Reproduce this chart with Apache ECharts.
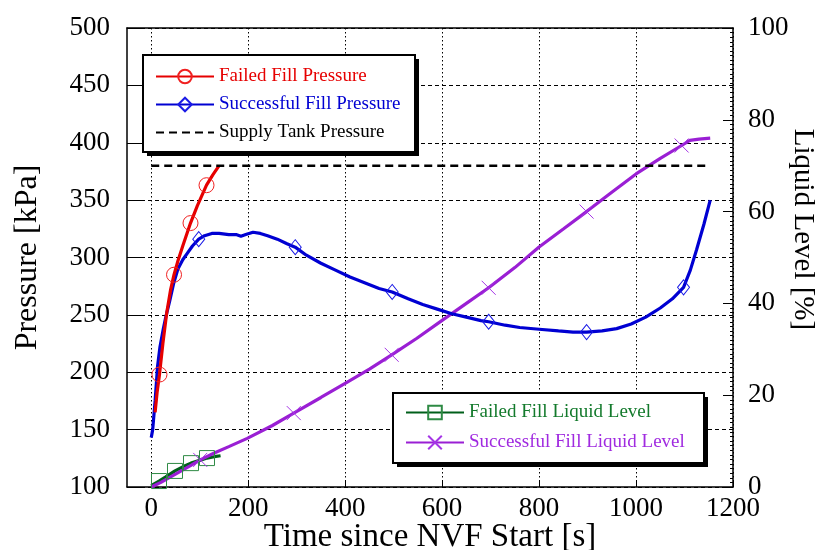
<!DOCTYPE html>
<html>
<head>
<meta charset="utf-8">
<script src="https://cdn.jsdelivr.net/npm/echarts@6/dist/echarts.min.js"></script>
<style>
html,body{margin:0;padding:0;background:#fff;}
#c{width:822px;height:550px;}
</style>
</head>
<body>
<div id="c"></div>
<script>
// ---- data (time [s], value) ----
var xTicks = [0, 200, 400, 600, 800, 1000, 1200];
var failedPressure = [[8,165],[12,182],[17,198],[24,225],[32,252],[40,272],[47,285],[55,297],[65,310],[81,330],[95,345],[114,363],[127,372],[140,380]];
var failedPressureMarks = [17, 47, 81, 114];
var successPressure = [[0,143],[3,150],[8,175],[13,205],[18,222],[25,238],[30,248],[38,262],[46,277],[55,290],[65,298],[75,304],[85,310],[98,316],[110,319],[125,321],[140,321],[160,320],[175,320],[185,318.5],[195,320],[210,322],[225,321],[240,319],[260,316],[280,312],[297,309],[320,302],[350,295],[380,289],[410,283],[440,278],[470,273],[497,270],[530,264],[560,259],[590,255],[620,251],[650,248],[680,245],[696,244],[730,241],[760,239],[800,237.5],[840,236],[870,235],[898,235],[930,236],[960,238],[990,242],[1020,248],[1050,256],[1075,264],[1098,274],[1112,289],[1125,307],[1140,329],[1153,350]];
var successPressureMarks = [98, 297, 497, 696, 898, 1098];
var supplyPressure = [[0,380],[1153,380]];
var failedLevel = [[0,0.3],[16,1.3],[30,2.2],[49,3.5],[65,4.4],[82,5.2],[100,5.8],[115,6.3],[130,6.6],[143,6.8]];
var failedLevelMarks = [16, 49, 82, 115];
var successLevel = [[0,0],[20,1],[50,2.8],[80,4.6],[101,5.9],[130,7.4],[160,8.8],[198,10.6],[250,13.4],[294,16.1],[350,19.5],[400,22.6],[450,25.7],[496,28.8],[548,32.4],[600,36.3],[650,40],[696,43.4],[750,47.8],[800,52.3],[850,56.2],[898,60],[950,64.2],[1000,68.2],[1050,71.6],[1094,74.4],[1111,75.5],[1130,75.8],[1153,76]];
var successLevelMarks = [101, 294, 496, 696, 898, 1094];

var SERIF = '"Liberation Serif","Times New Roman",serif';
var RED = '#e60000', BLUE = '#0000d2', PURPLE = '#9a1fd4', GREEN = '#005f1a';
var XPATH = 'path://M0,0L10,10M10,0L0,10';

function withMarks(points, marks) {
  return points.map(function (p) {
    return marks.indexOf(p[0]) >= 0 ? { value: p } : { value: p, symbol: 'none' };
  });
}

function lineSeries(name, data, color, symbol, size, yIndex, markColor) {
  return {
    name: name, type: 'line', yAxisIndex: yIndex, data: data,
    symbol: symbol, symbolSize: size, showAllSymbol: true,
    lineStyle: { color: color, width: 3.2 },
    itemStyle: { color: 'transparent', borderColor: markColor || color, borderWidth: 1 },
    emphasis: { disabled: true }, z: 2
  };
}

function box(x, y, w, h) {
  return [
    { type: 'rect', z: 10, shape: { x: x + 4, y: y + 4, width: w, height: h }, style: { fill: '#000' } },
    { type: 'rect', z: 11, shape: { x: x, y: y, width: w, height: h }, style: { fill: '#fff', stroke: '#000', lineWidth: 2 } }
  ];
}

var chart = echarts.init(document.getElementById('c'), null, { renderer: 'canvas' });
var axisLabelStyle = { fontFamily: SERIF, fontSize: 27, color: '#000' };
var plainNum = function (v) { return String(v); };

chart.setOption({
  animation: false,
  backgroundColor: '#fff',
  grid: { left: 127, right: 89, top: 28, bottom: 63, containLabel: false, outerBoundsMode: 'none' },
  graphic: box(143, 55, 272, 97).concat(box(393, 393, 311, 70)),
  xAxis: [{
    type: 'value', min: -50, max: 1200, position: 'bottom',
    name: 'Time since NVF Start [s]', nameLocation: 'middle', nameGap: 34, nameMoveOverlap: false,
    nameTextStyle: { fontFamily: SERIF, fontSize: 33, color: '#000' },
    axisLine: { show: true, onZero: false, lineStyle: { color: '#000', width: 1.5 } },
    axisTick: { show: true, inside: true, length: 6, customValues: xTicks, lineStyle: { color: '#000' } },
    axisLabel: { customValues: xTicks, margin: 8, formatter: plainNum, ...axisLabelStyle },
    splitLine: { show: true, lineStyle: { color: '#000', type: [1.5, 2.5], width: 1 } }
  }, {
    type: 'value', min: -50, max: 1200, position: 'top',
    axisLine: { show: true, onZero: false, lineStyle: { color: '#000', width: 1.5 } },
    axisTick: { show: false }, axisLabel: { show: false }, splitLine: { show: false }
  }],
  yAxis: [{
    type: 'value', min: 100, max: 500, interval: 50, position: 'left',
    name: 'Pressure [kPa]', nameLocation: 'middle', nameGap: 83, nameRotate: 90, nameMoveOverlap: false,
    nameTextStyle: { fontFamily: SERIF, fontSize: 32, color: '#000' },
    axisLine: { show: true, onZero: false, lineStyle: { color: '#000', width: 1.5 } },
    axisTick: { show: true, inside: true, length: 14, lineStyle: { color: '#000' } },
    axisLabel: { margin: 17, formatter: plainNum, ...axisLabelStyle },
    splitLine: { show: true, lineStyle: { color: '#000', type: [4, 3], width: 1 } }
  }, {
    type: 'value', min: 0, max: 100, interval: 20, position: 'right',
    name: 'Liquid Level [%]', nameLocation: 'middle', nameGap: 55, nameRotate: -90, nameMoveOverlap: false,
    nameTextStyle: { fontFamily: SERIF, fontSize: 29, color: '#000', padding: [0, 56, 0, 0] },
    axisLine: { show: true, onZero: false, lineStyle: { color: '#000', width: 1.5 } },
    axisTick: { show: true, inside: true, length: 10, lineStyle: { color: '#000' } },
    minorTick: { show: true, splitNumber: 20, length: 3, lineStyle: { color: '#000' } },
    axisLabel: { margin: 15, formatter: plainNum, ...axisLabelStyle },
    splitLine: { show: false }
  }],
  legend: [{
    orient: 'vertical', left: 143, top: 56, z: 12,
    padding: [11, 12, 11, 12], itemGap: 9, itemWidth: 58, itemHeight: 17,
    textStyle: { fontFamily: SERIF, fontSize: 19 },
    selectedMode: false,
    data: [
      { name: 'Failed Fill Pressure', textStyle: { color: RED } },
      { name: 'Successful Fill Pressure', textStyle: { color: BLUE } },
      { name: 'Supply Tank Pressure', textStyle: { color: '#000' }, itemStyle: { opacity: 0 } }
    ]
  }, {
    orient: 'vertical', left: 393, top: 393, z: 12,
    padding: [10, 14, 10, 12], itemGap: 11, itemWidth: 58, itemHeight: 17,
    textStyle: { fontFamily: SERIF, fontSize: 19 },
    selectedMode: false,
    data: [
      { name: 'Failed Fill Liquid Level', textStyle: { color: '#137a2c' } },
      { name: 'Successful Fill Liquid Level', textStyle: { color: '#a02ae0' } }
    ]
  }],
  series: [
    lineSeries('Failed Fill Liquid Level', withMarks(failedLevel, failedLevelMarks), GREEN, 'rect', 15, 1, '#2e8a44'),
    lineSeries('Successful Fill Liquid Level', withMarks(successLevel, successLevelMarks), PURPLE, XPATH, 14, 1, '#a535e6'),
    lineSeries('Successful Fill Pressure', withMarks(successPressure, successPressureMarks), BLUE, 'diamond', [12, 15], 0, '#1a1ae6'),
    lineSeries('Failed Fill Pressure', withMarks(failedPressure, failedPressureMarks), RED, 'circle', 15, 0, '#f02020'),
    {
      name: 'Supply Tank Pressure', type: 'line', yAxisIndex: 0, data: supplyPressure,
      symbol: 'none', lineStyle: { color: '#000', width: 2.5, type: [8, 5] },
      itemStyle: { color: '#000' }, emphasis: { disabled: true }, z: 2
    }
  ]
});
</script>
</body>
</html>
